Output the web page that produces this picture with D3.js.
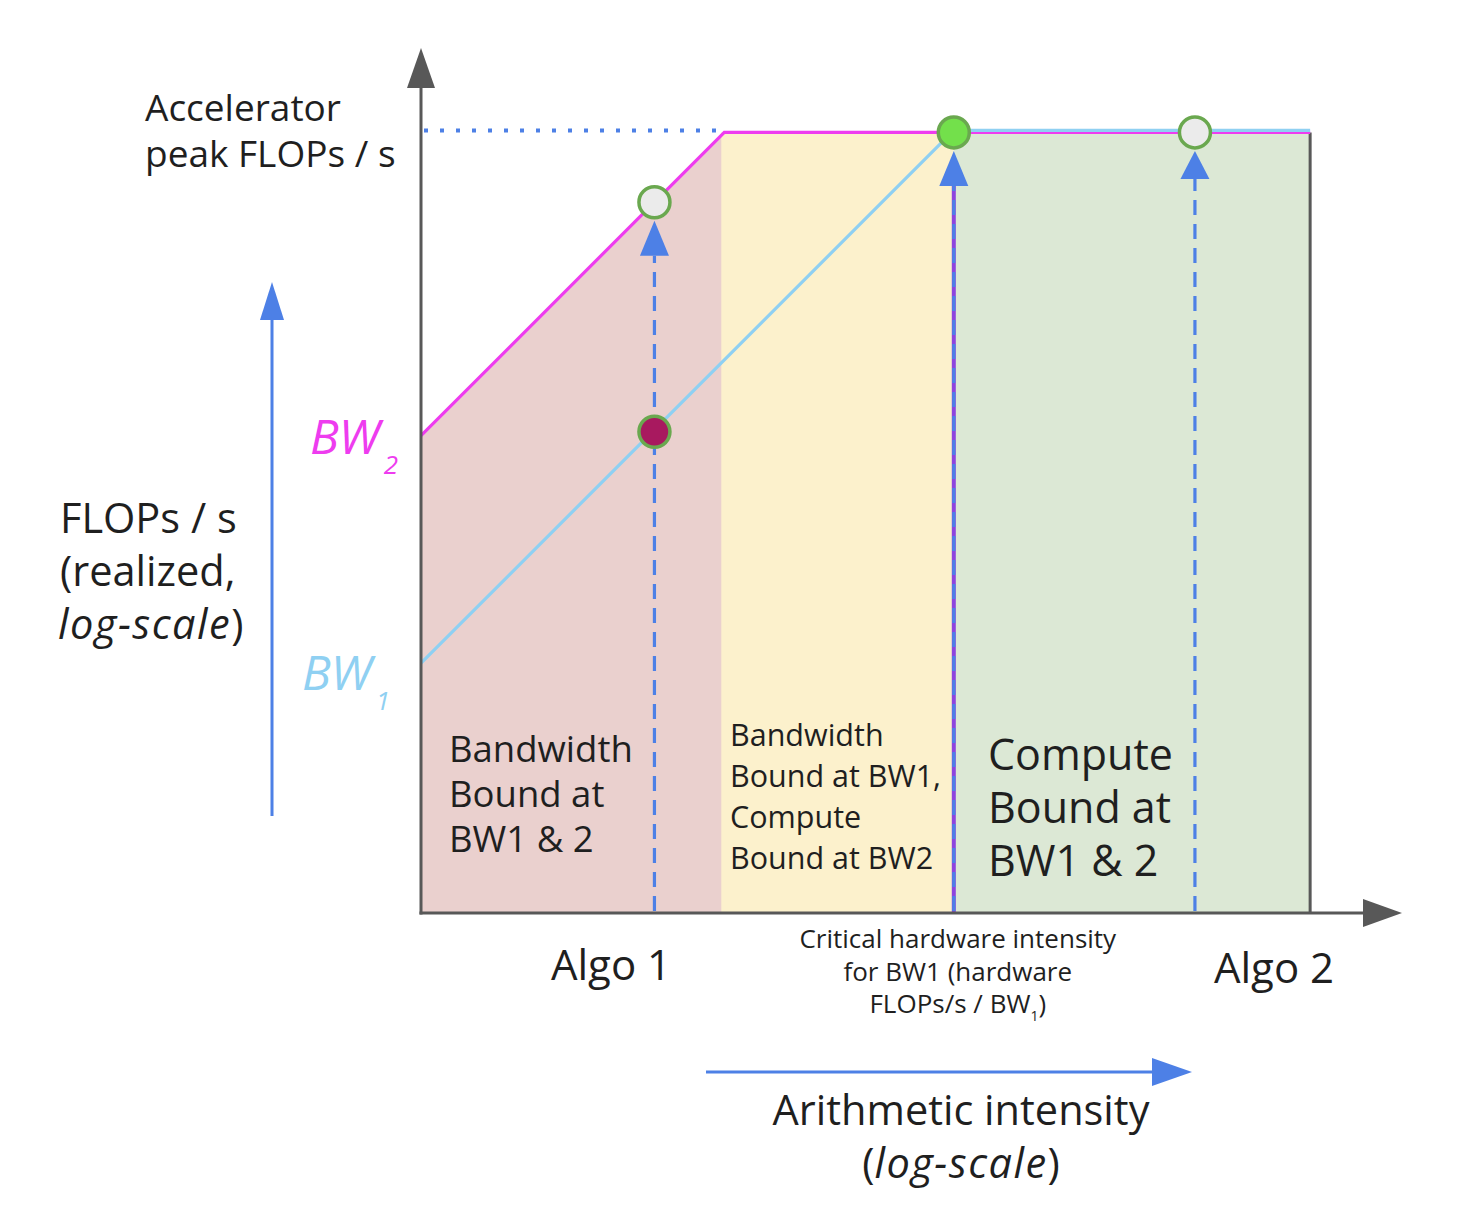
<!DOCTYPE html>
<html>
<head>
<meta charset="utf-8">
<script src="https://cdn.jsdelivr.net/npm/d3@7"></script>
<style>
body { margin: 0; background: #fff; }
text { font-family: "Open Sans", Roboto, sans-serif; fill: #1f1f1f; }
</style>
</head>
<body>
<div id="chart"></div>
<script>
// roofline sketch: one compute peak, two memory bandwidths (log-log)
var peakFlops = 400
var bwNames = ["BW1", "BW2"]
var bwValues = [6.7, 39]
var algoNames = ["Algo 1", "Algo 2"]
var algoIntensity = [6, 380]
var intensityMin = 1
var intensityMax = 920
var regionLabels = [
    ["Bandwidth", "Bound at", "BW1 & 2"],
    ["Bandwidth", "Bound at BW1,", "Compute", "Bound at BW2"],
    ["Compute", "Bound at", "BW1 & 2"]
]
var criticalLabel = ["Critical hardware intensity", "for BW1 (hardware", "FLOPs/s / BW"]

var width = 1460, height = 1218
var svg = d3.select("#chart").append("svg")
    .attr("width", width)
    .attr("height", height)

// same pixels per decade on both axes so the slopes are 45 degrees
var x = d3.scaleLog().domain([1, 1000]).range([421, 1321])
var y = d3.scaleLog().domain([1, 1000]).range([913, 13])

var bwColor = {BW1: "#8fd0f2", BW2: "#ee3cef"}
var ridge = bwValues.map(function(b) { return peakFlops / b })   // intensity where each roof flattens
var ridge1 = ridge[0], ridge2 = ridge[1]

var axisColor = "#585858"
var blue = "#4d80e6"

// shaded regions
var line = d3.line().x(function(d) { return x(d[0]) }).y(function(d) { return y(d[1]) })

svg.append("path")
    .attr("d", line([[intensityMin, 1], [intensityMin, bwValues[1] * intensityMin], [ridge2, peakFlops], [ridge2, 1]]) + "Z")
    .style("fill", "#ead0ce")
svg.append("rect")
    .attr("x", x(ridge2) - 3).attr("y", y(peakFlops))
    .attr("width", x(ridge1) - x(ridge2) + 3).attr("height", y(1) - y(peakFlops))
    .style("fill", "#fcf1cc")
svg.append("rect")
    .attr("x", x(ridge1)).attr("y", y(peakFlops))
    .attr("width", x(intensityMax) - x(ridge1)).attr("height", y(1) - y(peakFlops))
    .style("fill", "#dce8d5")

// right border of the compute region
svg.append("line")
    .attr("x1", x(intensityMax)).attr("x2", x(intensityMax))
    .attr("y1", y(peakFlops)).attr("y2", y(1))
    .style("stroke", axisColor).style("stroke-width", 3)

// dotted peak guide
svg.append("line")
    .attr("x1", x(intensityMin) + 3).attr("x2", x(ridge2))
    .attr("y1", y(peakFlops) - 2).attr("y2", y(peakFlops) - 2)
    .style("stroke", blue).style("stroke-width", 4)
    .style("stroke-dasharray", "4,12")

// rooflines
var drawOrder = [1, 0]
drawOrder.forEach(function(k) {
    var bw = bwValues[k]
    svg.append("path")
        .attr("d", line([[intensityMin, bw * intensityMin], [ridge[k], peakFlops], [intensityMax, peakFlops]]))
        .attr("transform", k == 0 ? "translate(0,-2)" : null)
        .style("fill", "none")
        .style("stroke", bwColor[bwNames[k]])
        .style("stroke-width", 3.2)
})

// markers: algo 1 at both bandwidths, the critical intensity, algo 2
var markerIntensity = [algoIntensity[0], algoIntensity[0], ridge1, algoIntensity[1]]
var markerBw = [bwValues[1], bwValues[0], bwValues[0], bwValues[0]]
var markerFill = ["#ebebeb", "#a8195f", "#73e04b", "#ebebeb"]
var withArrow = [true, false, true, true]
var r = 15.5

markerIntensity.forEach(function(iv, m) {
    var cx = x(iv)
    var cy = y(Math.min(peakFlops, markerBw[m] * iv))
    if (withArrow[m]) {
        var tip = cy + r + 3
        var base = tip + (m == 3 ? 28 : 35)
        if (m == 2) {
            svg.append("line")
                .attr("x1", cx).attr("x2", cx).attr("y1", y(1)).attr("y2", base)
                .style("stroke", "#8e44de").style("stroke-width", 4)
        }
        svg.append("line")
            .attr("x1", cx).attr("x2", cx).attr("y1", y(1) - 2).attr("y2", base)
            .style("stroke", blue).style("stroke-width", 3.2)
            .style("stroke-dasharray", "15,9")
        svg.append("path")
            .attr("d", "M" + cx + "," + tip + "L" + (cx + 14.5) + "," + base + "L" + (cx - 14.5) + "," + base + "Z")
            .style("fill", blue)
    }
})
markerIntensity.forEach(function(iv, m) {
    svg.append("circle")
        .attr("cx", x(iv))
        .attr("cy", y(Math.min(peakFlops, markerBw[m] * iv)))
        .attr("r", r)
        .style("fill", markerFill[m])
        .style("stroke", "#6aa84f")
        .style("stroke-width", 3.5)
})

// axes with arrowheads
var x0 = x(intensityMin), y0 = y(1)
svg.append("line").attr("x1", x0).attr("x2", x0).attr("y1", y0 + 1.5).attr("y2", 80)
    .style("stroke", axisColor).style("stroke-width", 3)
svg.append("path").attr("d", "M" + x0 + ",48L" + (x0 + 14) + ",88L" + (x0 - 14) + ",88Z").style("fill", axisColor)
svg.append("line").attr("x1", x0 - 1.5).attr("x2", 1370).attr("y1", y0).attr("y2", y0)
    .style("stroke", axisColor).style("stroke-width", 3)
svg.append("path").attr("d", "M1402," + y0 + "L1363," + (y0 - 14) + "L1363," + (y0 + 14) + "Z").style("fill", axisColor)

// direction arrows beside the axes
svg.append("line").attr("x1", 272).attr("x2", 272).attr("y1", 816).attr("y2", 310)
    .style("stroke", blue).style("stroke-width", 3)
svg.append("path").attr("d", "M272,282L284,320L260,320Z").style("fill", blue)
svg.append("line").attr("x1", 706).attr("x2", 1160).attr("y1", 1072).attr("y2", 1072)
    .style("stroke", blue).style("stroke-width", 3)
svg.append("path").attr("d", "M1192,1072L1152,1058L1152,1086Z").style("fill", blue)

// text helpers
function lines(tx, ty, rows, size, gap, anchor) {
    var t = svg.append("text").attr("x", tx).attr("y", ty)
        .attr("text-anchor", anchor || "start").style("font-size", size + "px")
    rows.forEach(function(s, i) {
        t.append("tspan").attr("x", tx).attr("dy", i == 0 ? 0 : gap).text(s)
    })
    return t
}

lines(145, 121, ["Accelerator", "peak FLOPs / s"], 37, 46)

// bandwidth labels
var bwLabelPos = [[302, 690], [310, 454]]
bwNames.forEach(function(n, k) {
    var t = svg.append("text").attr("x", bwLabelPos[k][0]).attr("y", bwLabelPos[k][1])
        .style("font-size", "48px").style("font-style", "italic").style("fill", bwColor[n])
    t.append("tspan").text(n.slice(0, 2))
    t.append("tspan").attr("dx", 4).attr("dy", 20).style("font-size", "26px").text(n.slice(2))
})

// y axis title
lines(60, 533, ["FLOPs / s", "(realized,"], 41.5, 53)
var yl = svg.append("text").attr("x", 58).attr("y", 639).style("font-size", "41.5px")
yl.append("tspan").style("font-style", "italic").style("letter-spacing", "1.5px").text("log-scale")
yl.append("tspan").text(")")

// region labels
lines(449, 762, regionLabels[0], 36.5, 45)
lines(730, 746, regionLabels[1], 30.5, 41)
lines(988, 770, regionLabels[2], 43, 53)

// algo labels
var algoLabelY = [980, 983]
algoNames.forEach(function(a, k) {
    svg.append("text")
        .attr("x", k == 0 ? 611 : 1274).attr("y", algoLabelY[k])
        .attr("text-anchor", "middle").style("font-size", "42px").text(a)
})

// critical intensity note
var ct = lines(x(ridge1) + 4, 948, criticalLabel, 26, 32.5, "middle")
ct.append("tspan").attr("dy", 8).style("font-size", "14px").text("1")
ct.append("tspan").attr("dy", -8).text(")")

// x axis title
svg.append("text").attr("x", 961).attr("y", 1125).attr("text-anchor", "middle")
    .style("font-size", "41.5px").text("Arithmetic intensity")
var xl = svg.append("text").attr("x", 961).attr("y", 1178).attr("text-anchor", "middle").style("font-size", "41.5px")
xl.append("tspan").text("(")
xl.append("tspan").style("font-style", "italic").style("letter-spacing", "1.5px").text("log-scale")
xl.append("tspan").text(")")
</script>
</body>
</html>
